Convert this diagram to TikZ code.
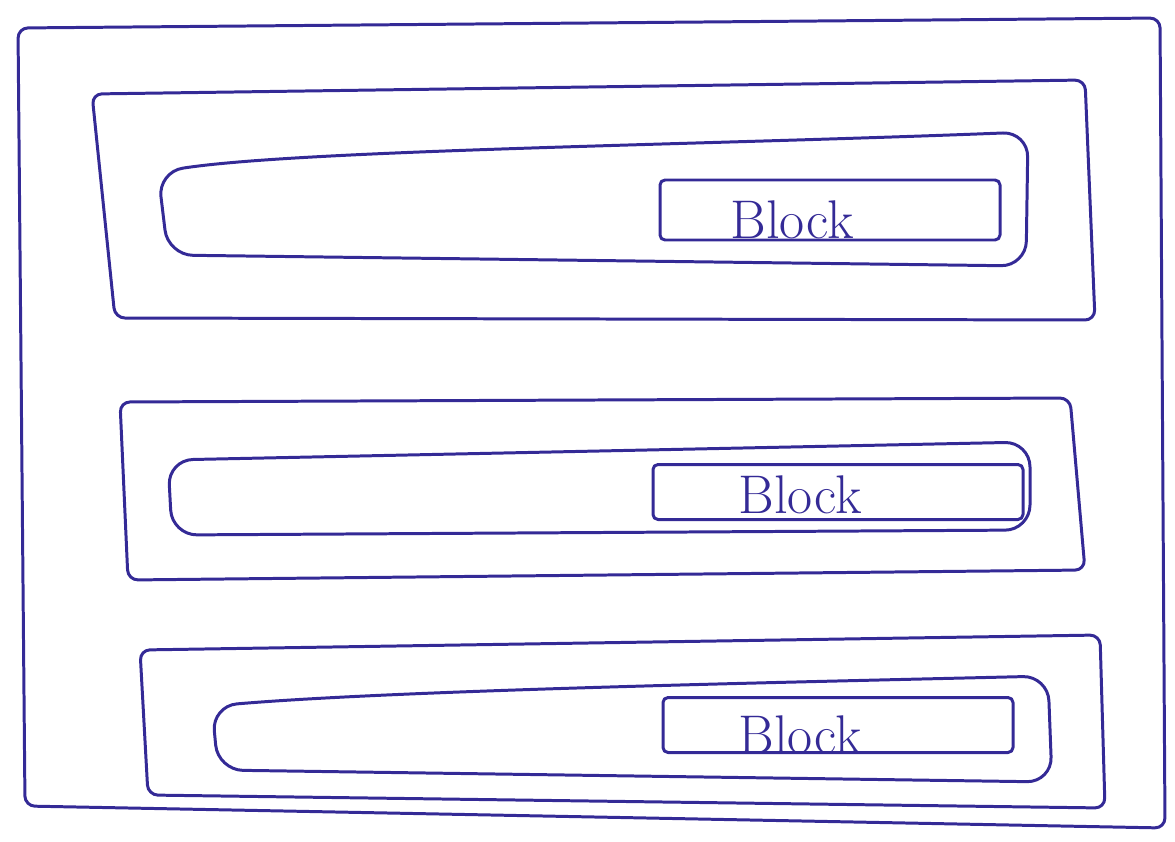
\documentclass[tikz,border=0pt]{standalone}
\usepackage{xcolor}
\usetikzlibrary{calc}
\definecolor{ink}{RGB}{52,42,150}

\begin{document}
\begin{tikzpicture}[x=0.2mm,y=-0.2mm,line join=round,line cap=round]
	\tikzset{
		sketch/.style={draw=ink,line width=1.7pt},
		panel/.style={sketch,rounded corners=2mm},
		well/.style={sketch,rounded corners=5mm},
		blockbox/.style={sketch,rounded corners=1mm,inner sep=0pt},
		blocktext/.style={text=ink,font=\fontsize{31}{34}\selectfont}
	}
	\useasboundingbox (0,0) rectangle (1175,841);
	
	% frame
	\draw[panel] (18,28) -- (1160,18) -- (1165,828) -- (25,806) -- cycle;
	
	% top row
	\draw[panel] (92,94) -- (1085,80) -- (1095,320) -- (115,318) -- cycle;
	\draw[well] (158,172) .. controls (300,150) and (700,145) .. (1028,132) -- (1026,266) -- (168,255) -- cycle;
	\node[blockbox,minimum width=68mm,minimum height=12mm] (blk1) at (830,210) {};
	\node[blocktext] (lbl1) at (792,220) {Block};
	
	% middle row
	\draw[panel] (120,402) -- (1070,398) -- (1085,570) -- (128,580) -- cycle;
	\draw[well] (168,460) -- (1030,442) -- (1030,530) -- (172,535) -- cycle;
	\node[blockbox,minimum width=74mm,minimum height=11mm] (blk2) at (838,492) {};
	\node[blocktext] (lbl2) at (800,495) {Block};
	
	% bottom row
	\draw[panel] (140,650) -- (1100,635) -- (1105,808) -- (148,795) -- cycle;
	\draw[well] (212,706) .. controls (400,690) and (800,682) .. (1048,676) -- (1052,782) -- (218,770) -- cycle;
	\node[blockbox,minimum width=70mm,minimum height=11mm] (blk3) at (838,725) {};
	\node[blocktext] (lbl3) at (800,735) {Block};
	
\end{tikzpicture}
\end{document}
